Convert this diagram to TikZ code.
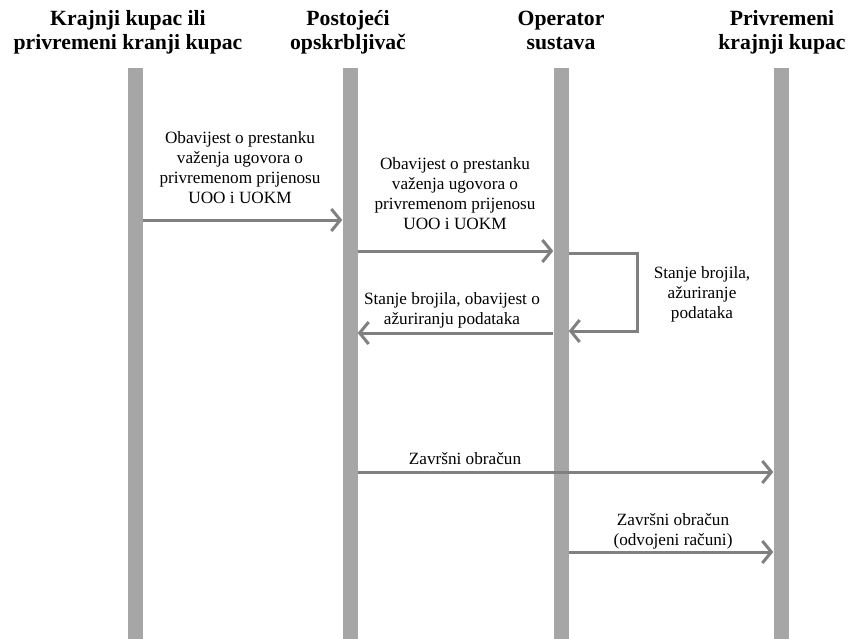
\documentclass[tikz,border=0pt]{standalone}
\usepackage{fontspec}
\setmainfont{Liberation Serif}
\usetikzlibrary{arrows.meta}
\definecolor{barcol}{HTML}{A6A6A6}
\definecolor{arrcol}{HTML}{808080}
\tikzset{
  lifeline/.style={fill=barcol, draw=none, minimum width=15pt, minimum height=571pt, anchor=north, inner sep=0pt},
  header/.style={font=\fontsize{21.7}{24}\selectfont\bfseries, align=center, inner sep=0pt, anchor=base},
  msglabel/.style={font=\fontsize{17.2}{20}\selectfont, align=center, inner sep=0pt},
  msg/.style={draw=arrcol, line width=3pt, -{Straight Barb[length=9pt,width=22pt]}}
}
\begin{document}
\begin{tikzpicture}[x=1pt,y=-1pt]
\useasboundingbox (0,0) rectangle (848,639);
% lifelines
\node[lifeline] (l1) at (135,68) {};
\node[lifeline] (l2) at (350,68) {};
\node[lifeline] (l3) at (561,68) {};
\node[lifeline] (l4) at (781,68) {};
% headers
\node[header] (h1) at (128,50) {Krajnji kupac ili\\privremeni kranji kupac};
\node[header] (h2) at (348,50) {Postojeći\\opskrbljivač};
\node[header] (h3) at (561,50) {Operator\\sustava};
\node[header] (h4) at (782,50) {Privremeni\\krajnji kupac};
% message rows
\coordinate (m1) at (0,220);
\coordinate (m2) at (0,251);
\coordinate (m3) at (0,333);
\coordinate (s1) at (0,253);
\coordinate (s2) at (0,331);
\coordinate (m4) at (0,472);
\coordinate (m5) at (0,552);
\coordinate (sx) at (637,0);
% arrows
\draw[msg] (l1.east |- m1) -- (l2.west |- m1);
\draw[msg] (l2.east |- m2) -- (l3.west |- m2);
\draw[msg] (l3.west |- m3) -- (l2.east |- m3);
\draw[msg] (l3.east |- s1) -- (sx |- s1) -- (sx |- s2) -- (l3.east |- s2);
\draw[msg] (l2.east |- m4) -- (l4.west |- m4);
\draw[msg] (l3.east |- m5) -- (l4.west |- m5);
% labels
\node[msglabel] (t1) at (240,168) {Obavijest o prestanku\\važenja ugovora o\\privremenom prijenosu\\UOO i UOKM};
\node[msglabel] (t2) at (455,194) {Obavijest o prestanku\\važenja ugovora o\\privremenom prijenosu\\UOO i UOKM};
\node[msglabel] (t3) at (452,310) {Stanje brojila, obavijest o\\ažuriranju podataka};
\node[msglabel] (t4) at (702,294) {Stanje brojila,\\ažuriranje\\podataka};
\node[msglabel] (t5) at (465,459) {Završni obračun};
\node[msglabel] (t6) at (673,531) {Završni obračun\\(odvojeni računi)};
\end{tikzpicture}
\end{document}
